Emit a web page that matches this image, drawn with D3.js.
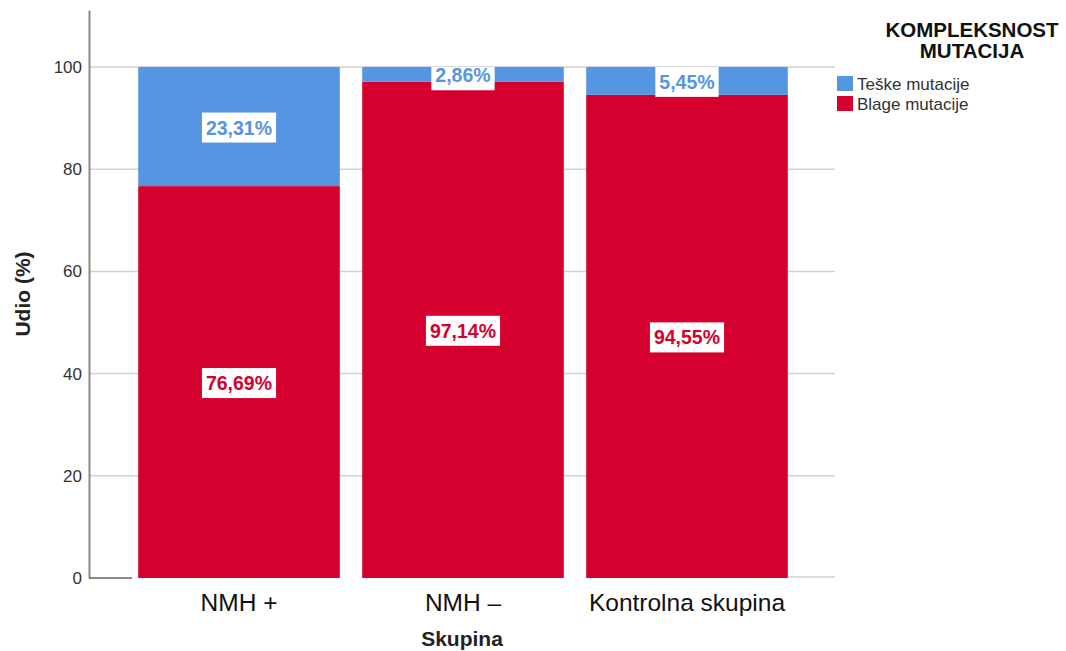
<!DOCTYPE html>
<html>
<head>
<meta charset="utf-8">
<script src="https://cdnjs.cloudflare.com/ajax/libs/d3/7.8.5/d3.min.js"></script>
<style>
    body { margin: 0; background: #fff; }
    text { font-family: Arial, "Liberation Sans", sans-serif; }
</style>
</head>
<body>
<div id="chart"></div>
<script>
// Data
var groups = ['NMH +', 'NMH \u2013', 'Kontrolna skupina']
var blage = [76.69, 97.14, 94.55]
var teske = [23.31, 2.86, 5.45]
var seriesNames = ['Blage mutacije', 'Teške mutacije']
var legendOrder = ['Teške mutacije', 'Blage mutacije']
var yTicks = [0, 20, 40, 60, 80, 100]

var width = 1066,
    height = 651

// plot edges (note: "top" is taken by window.top)
var plotLeft = 89,
    plotRight = 835,
    plotTop = 10,
    plotBottom = 578

var color = d3.scaleOrdinal()
    .domain(seriesNames)
    .range(['#d6002f', '#5595e2'])

// Rows for the stack
var rows = groups.map(function(g, i) {
    return { group: g, 'Blage mutacije': blage[i], 'Teške mutacije': teske[i] }
})

var stack = d3.stack().keys(seriesNames)
var layers = stack(rows)

var x = d3.scaleBand()
    .domain(groups)
    .range([127, 799])
    .paddingInner(0.1)
    .paddingOuter(0.05)

var y = d3.scaleLinear()
    .domain([0, 111.15])
    .range([plotBottom, plotTop])

var svg = d3.select('#chart')
    .append('svg')
    .attr('width', width)
    .attr('height', height)

// Gridlines
svg.append('g')
    .selectAll('line')
    .data(yTicks.filter(function(d) { return d > 0 }))
    .enter()
    .append('line')
    .attr('x1', plotLeft)
    .attr('x2', plotRight)
    .attr('y1', function(d) { return y(d) })
    .attr('y2', function(d) { return y(d) })
    .attr('stroke', '#d2d2d2')
    .attr('stroke-width', 1.5)

// Y axis
var yAxis = svg.append('g')
    .attr('transform', 'translate(' + plotLeft + ',0)')
    .call(d3.axisLeft(y).tickValues(yTicks).tickSize(0).tickPadding(7))

yAxis.select('.domain')
    .attr('stroke', '#8a8a8a')
    .attr('stroke-width', 2)

yAxis.selectAll('text')
    .attr('font-size', '17px')
    .attr('fill', '#333')

// Short baseline stub left of the first bar
svg.append('line')
    .attr('x1', plotLeft)
    .attr('x2', x(groups[0]) - 6)
    .attr('y1', y(0))
    .attr('y2', y(0))
    .attr('stroke', '#666')
    .attr('stroke-width', 1.5)

svg.append('line')
    .attr('x1', x(groups[2]) + x.bandwidth())
    .attr('x2', plotRight)
    .attr('y1', y(0) - 1)
    .attr('y2', y(0) - 1)
    .attr('stroke', '#d2d2d2')
    .attr('stroke-width', 1.5)

// Bars
var layer = svg.selectAll('.layer')
    .data(layers)
    .enter()
    .append('g')
    .attr('class', 'layer')
    .attr('fill', function(d) { return color(d.key) })

layer.selectAll('rect')
    .data(function(d) { return d })
    .enter()
    .append('rect')
    .attr('x', function(d) { return x(d.data.group) })
    .attr('y', function(d) { return y(d[1]) })
    .attr('width', x.bandwidth())
    .attr('height', function(d) { return y(d[0]) - y(d[1]) })

// Value labels in white boxes
var fmt = function(v) { return v.toFixed(2).replace('.', ',') + '%' }
var boxH = 30

layers.forEach(function(l) {
    l.forEach(function(d) {
        var v = d[1] - d[0]
        var cx = x(d.data.group) + x.bandwidth() / 2
        var cy = (y(d[0]) + y(d[1])) / 2 + 1
        var g = svg.append('g')
        var t = g.append('text')
            .attr('x', cx)
            .attr('y', cy)
            .attr('text-anchor', 'middle')
            .attr('dominant-baseline', 'central')
            .attr('font-size', '19.5px')
            .attr('font-weight', 'bold')
            .attr('fill', color(l.key))
            .text(fmt(v))
        var w = t.node().getComputedTextLength() + 8
        var bTop = Math.max(cy - boxH / 2, y(100))
        g.insert('rect', 'text')
            .attr('x', cx - w / 2)
            .attr('y', bTop)
            .attr('width', w)
            .attr('height', cy + boxH / 2 - bTop)
            .attr('fill', '#fff')
    })
})

// X labels
svg.append('g')
    .selectAll('text')
    .data(groups)
    .enter()
    .append('text')
    .attr('x', function(d) { return x(d) + x.bandwidth() / 2 })
    .attr('y', 611)
    .attr('text-anchor', 'middle')
    .attr('font-size', '24.5px')
    .attr('fill', '#111')
    .text(function(d) { return d })

// Axis titles
svg.append('text')
    .attr('x', (plotLeft + plotRight) / 2)
    .attr('y', 646)
    .attr('text-anchor', 'middle')
    .attr('font-size', '21px')
    .attr('font-weight', 'bold')
    .attr('fill', '#222')
    .text('Skupina')

svg.append('text')
    .attr('transform', 'translate(30,' + ((plotTop + plotBottom) / 2) + ') rotate(-90)')
    .attr('text-anchor', 'middle')
    .attr('font-size', '21px')
    .attr('font-weight', 'bold')
    .attr('fill', '#222')
    .text('Udio (%)')

// Legend
var legendTitle = svg.append('text')
    .attr('text-anchor', 'middle')
    .attr('font-size', '20.5px')
    .attr('font-weight', 'bold')
    .attr('fill', '#111')

legendTitle.append('tspan').attr('x', 972).attr('y', 37).text('KOMPLEKSNOST')
legendTitle.append('tspan').attr('x', 972).attr('y', 58).text('MUTACIJA')

var legend = svg.selectAll('.legend')
    .data(legendOrder)
    .enter()
    .append('g')
    .attr('class', 'legend')
    .attr('transform', function(d, i) { return 'translate(837,' + (76 + i * 20) + ')' })

legend.append('rect')
    .attr('width', 16)
    .attr('height', 15)
    .attr('fill', function(d) { return color(d) })

legend.append('text')
    .attr('x', 20)
    .attr('y', 8)
    .attr('dominant-baseline', 'central')
    .attr('font-size', '17px')
    .attr('fill', '#333')
    .text(function(d) { return d })
</script>
</body>
</html>
